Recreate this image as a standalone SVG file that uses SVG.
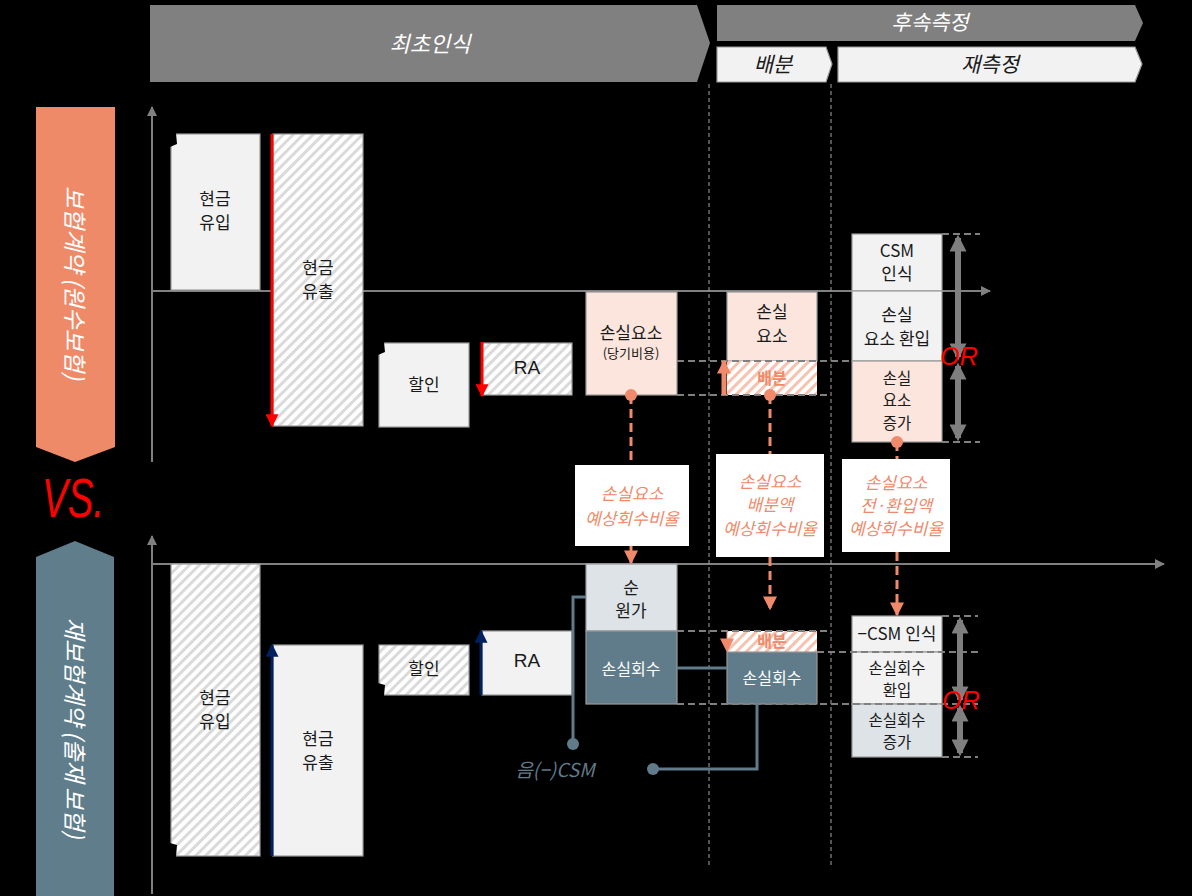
<svg xmlns="http://www.w3.org/2000/svg" width="1192" height="896" viewBox="0 0 1192 896">
  <defs>
    <pattern id="hatch" patternUnits="userSpaceOnUse" width="7" height="7" patternTransform="rotate(45)">
      <rect width="7" height="7" fill="#ffffff"/>
      <rect width="3" height="7" fill="#dadada"/>
    </pattern>
    <pattern id="hatchOrange" patternUnits="userSpaceOnUse" width="7" height="7" patternTransform="rotate(45)">
      <rect width="7" height="7" fill="#ffffff"/>
      <rect width="3" height="7" fill="#f7c2b0"/>
    </pattern>
    <marker id="axisHead" markerWidth="10" markerHeight="10" refX="9" refY="5" orient="auto" markerUnits="userSpaceOnUse" viewBox="0 0 10 10">
      <path d="M0,0 L10,5 L0,10 z" fill="#808080"/>
    </marker>
    <marker id="redHead" viewBox="0 0 10 10" refX="9" refY="5" markerWidth="13" markerHeight="13" orient="auto" markerUnits="userSpaceOnUse">
      <path d="M0,0 L10,5 L0,10 z" fill="#ff0000"/>
    </marker>
    <marker id="navyHead" viewBox="0 0 10 10" refX="9" refY="5" markerWidth="13" markerHeight="13" orient="auto" markerUnits="userSpaceOnUse">
      <path d="M0,0 L10,5 L0,10 z" fill="#002060"/>
    </marker>
    <marker id="orangeHead" viewBox="0 0 10 10" refX="9" refY="5" markerWidth="14" markerHeight="14" orient="auto" markerUnits="userSpaceOnUse">
      <path d="M0,0 L10,5 L0,10 z" fill="#f08a6a"/>
    </marker>
    <marker id="grayHead" viewBox="0 0 10 10" refX="8" refY="5" markerWidth="17" markerHeight="17" orient="auto-start-reverse" markerUnits="userSpaceOnUse">
      <path d="M0,0 L10,5 L0,10 z" fill="#7f7f7f"/>
    </marker>
    <style>
      text { font-family: "Noto Sans CJK KR", "Noto Sans", sans-serif; text-anchor: middle; dominant-baseline: central; }
      .t { font-size: 17px; fill: #1a1a1a; }
      .tt { font-size: 15.5px; fill: #1a1a1a; }
      .ts { font-size: 13px; fill: #1a1a1a; }
      .ra { font-size: 19px; fill: #1a1a1a; font-family: "Liberation Sans", Arial, sans-serif; }
      .tw { font-size: 16px; fill: #ffffff; }
      .to { font-size: 16px; fill: #f08a6a; font-weight: bold; }
      .ratio { font-size: 17px; fill: #f08a6a; font-style: italic; }
      .hdr { font-size: 22px; fill: #ffffff; font-style: italic; }
      .hdr2 { font-size: 21px; fill: #ffffff; font-style: italic; }
      .sub { font-size: 21px; fill: #1a1a1a; font-style: italic; }
      .side { font-size: 23.5px; fill: #ffffff; font-style: italic; }
      .or { font-family: "Liberation Sans", Arial, sans-serif; font-size: 25px; fill: #ff0000; font-style: italic; }
      .vs { font-family: "Liberation Sans", Arial, sans-serif; font-size: 56px; fill: #ff0000; font-style: italic; }
      .csmlabel { font-size: 19px; fill: #607b89; font-style: italic; }
      .light { fill: #f2f2f2; stroke: #9a9a9a; stroke-width: 1.2; }
      .hatched { fill: url(#hatch); stroke: #9a9a9a; stroke-width: 1.2; }
      .ohatched { fill: url(#hatchOrange); stroke: none; }
      .pink { fill: #fbe5dc; stroke: #9a9a9a; stroke-width: 1.2; }
      .pale { fill: #dde3e7; stroke: #9a9a9a; stroke-width: 1.2; }
      .dark { fill: #607b89; stroke: #9a9a9a; stroke-width: 1.2; }
      .axis { stroke: #808080; stroke-width: 2; fill: none; }
      .vguide { stroke: #a6a6a6; stroke-width: 1; stroke-dasharray: 4 3; fill: none; }
      .hguide { stroke: #808080; stroke-width: 2; stroke-dasharray: 7 4; fill: none; }
      .odash { stroke: #f08a6a; stroke-width: 3; stroke-dasharray: 9 5; fill: none; }
      .link { stroke: #607b89; stroke-width: 3; fill: none; }
      .range { stroke: #7f7f7f; stroke-width: 6; fill: none; }
      .notch { fill: #000000; }
    </style>
  </defs>

  <rect width="1192" height="896" fill="#000000"/>

  <!-- phase headers -->
  <g id="header-initial">
    <polygon points="150,5 697,5 710,43 697,82 150,82" fill="#808080"/>
    <text class="hdr" x="430" y="42">최초인식</text>
  </g>
  <g id="header-subsequent">
    <polygon points="717,5 1135,5 1143,23 1135,41 717,41" fill="#808080"/>
    <text class="hdr2" x="930" y="21">후속측정</text>
  </g>
  <g id="header-allocation">
    <polygon points="717,47 826,47 832,64 826,82 717,82" fill="#f2f2f2" stroke="#9a9a9a" stroke-width="1.2"/>
    <text class="sub" x="773" y="63">배분</text>
  </g>
  <g id="header-remeasure">
    <polygon points="838,47 1135,47 1142,64 1135,82 838,82" fill="#f2f2f2" stroke="#9a9a9a" stroke-width="1.2"/>
    <text class="sub" x="990" y="63">재측정</text>
  </g>

  <!-- side labels -->
  <g id="label-direct">
    <polygon points="36,107 115,107 115,447 75,462 36,447" fill="#ef8a69"/>
    <text class="side" transform="translate(76,283) rotate(90)">보험계약 (원수보험)</text>
  </g>
  <g id="label-vs">
    <text class="vs" x="73" y="497" textLength="62" lengthAdjust="spacingAndGlyphs">VS.</text>
  </g>
  <g id="label-reinsurance">
    <polygon points="36,557 75,541 114,557 114,896 36,896" fill="#607d8b"/>
    <text class="side" transform="translate(76,728) rotate(90)">재보험계약 (출재 보험)</text>
  </g>

  <!-- axes and guides -->
  <g id="axes">
    <line class="axis" x1="152" y1="462" x2="152" y2="107" marker-end="url(#axisHead)"/>
    <line class="axis" x1="152" y1="291" x2="990" y2="291" marker-end="url(#axisHead)"/>
    <line class="axis" x1="152" y1="894" x2="152" y2="536" marker-end="url(#axisHead)"/>
    <line class="axis" x1="152" y1="564" x2="1164" y2="564" marker-end="url(#axisHead)"/>
    <line class="vguide" x1="709" y1="84" x2="709" y2="867"/>
    <line class="vguide" x1="831" y1="84" x2="831" y2="867"/>
  </g>

  <!-- direct contract: initial recognition -->
  <g id="up-cash-in">
    <rect class="light" x="171" y="134" width="89" height="156"/>
    <polygon class="notch" points="170,133 176,133 177,144 170,147"/>
    <text class="t" x="215" y="197">현금</text>
    <text class="t" x="215" y="221">유입</text>
  </g>
  <g id="up-cash-out">
    <rect class="hatched" x="273" y="134" width="90" height="292"/>
    <text class="t" x="318" y="266">현금</text>
    <text class="t" x="318" y="290">유출</text>
  </g>
  <g id="up-discount">
    <rect class="light" x="379" y="343" width="90" height="84"/>
    <polygon class="notch" points="378,342 384,342 385,352 378,355"/>
    <text class="t" x="424" y="383">할인</text>
  </g>
  <g id="up-ra">
    <rect class="hatched" x="482" y="343" width="90" height="52"/>
    <text class="ra" x="527" y="367">RA</text>
  </g>
  <g id="up-loss-component">
    <rect class="pink" x="586" y="292" width="91" height="103"/>
    <text class="t" x="631" y="331">손실요소</text>
    <text class="ts" x="631" y="352">(당기비용)</text>
  </g>
  <g id="up-alloc-loss">
    <rect class="pink" x="727" y="292" width="90" height="69"/>
    <text class="t" x="772" y="310">손실</text>
    <text class="t" x="772" y="334">요소</text>
  </g>
  <g id="up-alloc-share">
    <rect class="ohatched" x="727" y="361" width="90" height="34"/>
    <text class="to" x="772" y="377">배분</text>
  </g>
  <g id="up-csm">
    <rect class="light" x="852" y="234" width="90" height="57"/>
    <text class="t" x="897" y="249">CSM</text>
    <text class="t" x="897" y="272">인식</text>
  </g>
  <g id="up-loss-reversal">
    <rect class="light" x="852" y="291" width="90" height="70"/>
    <text class="t" x="897" y="313">손실</text>
    <text class="t" x="897" y="337">요소 환입</text>
  </g>
  <g id="up-loss-increase">
    <rect class="pink" x="852" y="361" width="90" height="81"/>
    <text class="tt" x="897" y="377">손실</text>
    <text class="tt" x="897" y="399">요소</text>
    <text class="tt" x="897" y="422">증가</text>
  </g>

  <!-- ratio labels -->
  <g id="ratio-initial">
    <rect x="575" y="465" width="114" height="81" fill="#ffffff"/>
    <text class="ratio" x="632" y="492">손실요소</text>
    <text class="ratio" x="632" y="517">예상회수비율</text>
  </g>
  <g id="ratio-allocation">
    <rect x="716" y="454" width="108" height="103" fill="#ffffff"/>
    <text class="ratio" x="770" y="480">손실요소</text>
    <text class="ratio" x="770" y="503">배분액</text>
    <text class="ratio" x="770" y="527">예상회수비율</text>
  </g>
  <g id="ratio-remeasure">
    <rect x="842" y="459" width="108" height="93" fill="#ffffff"/>
    <text class="ratio" x="896" y="481">손실요소</text>
    <text class="ratio" x="896" y="504">전·환입액</text>
    <text class="ratio" x="896" y="527">예상회수비율</text>
  </g>

  <!-- reinsurance contract -->
  <g id="re-cash-in">
    <rect class="hatched" x="171" y="564" width="89" height="292"/>
    <polygon class="notch" points="170,857 176,857 177,845 170,843"/>
    <text class="t" x="215" y="696">현금</text>
    <text class="t" x="215" y="720">유입</text>
  </g>
  <g id="re-cash-out">
    <rect class="light" x="273" y="645" width="90" height="211"/>
    <text class="t" x="318" y="737">현금</text>
    <text class="t" x="318" y="761">유출</text>
  </g>
  <g id="re-discount">
    <rect class="hatched" x="379" y="645" width="90" height="50"/>
    <polygon class="notch" points="378,696 384,696 385,685 378,683"/>
    <text class="t" x="424" y="667">할인</text>
  </g>
  <g id="re-ra">
    <rect class="light" x="482" y="631" width="90" height="64"/>
    <text class="ra" x="527" y="660">RA</text>
  </g>
  <g id="re-net-cost">
    <rect class="pale" x="586" y="564" width="91" height="67"/>
    <text class="t" x="631" y="586">순</text>
    <text class="t" x="631" y="609">원가</text>
  </g>
  <g id="re-loss-recovery">
    <rect class="dark" x="586" y="631" width="91" height="73"/>
    <text class="tw" x="631" y="668">손실회수</text>
  </g>
  <g id="re-alloc-share">
    <rect class="ohatched" x="727" y="631" width="90" height="21"/>
    <text class="to" x="772" y="640">배분</text>
  </g>
  <g id="re-alloc-recovery">
    <rect class="dark" x="727" y="652" width="90" height="52"/>
    <text class="tw" x="772" y="677">손실회수</text>
  </g>
  <g id="re-csm">
    <rect class="light" x="852" y="616" width="90" height="36"/>
    <text class="t" x="897" y="632">−CSM 인식</text>
  </g>
  <g id="re-recovery-reversal">
    <rect class="light" x="852" y="652" width="90" height="52"/>
    <text class="tt" x="897" y="667">손실회수</text>
    <text class="tt" x="897" y="689">환입</text>
  </g>
  <g id="re-recovery-increase">
    <rect class="pale" x="852" y="704" width="90" height="53"/>
    <text class="tt" x="897" y="719">손실회수</text>
    <text class="tt" x="897" y="741">증가</text>
  </g>
  <g id="re-negative-csm">
    <text class="csmlabel" x="555" y="768">음(−)CSM</text>
  </g>

  <!-- connectors -->
  <g id="connectors">
    <!-- level guides -->
    <line class="hguide" x1="677" y1="361" x2="853" y2="361"/>
    <line class="hguide" x1="677" y1="395" x2="830" y2="395"/>
    <line class="hguide" x1="942" y1="234" x2="980" y2="234"/>
    <line class="hguide" x1="942" y1="442" x2="980" y2="442"/>
    <line class="hguide" x1="677" y1="631" x2="830" y2="631"/>
    <line class="hguide" x1="817" y1="652" x2="978" y2="652"/>
    <line class="hguide" x1="677" y1="704" x2="978" y2="704"/>
    <line class="hguide" x1="942" y1="616" x2="978" y2="616"/>
    <line class="hguide" x1="942" y1="757" x2="978" y2="757"/>

    <!-- flow arrows -->
    <line x1="272" y1="134" x2="272" y2="426" stroke="#ff0000" stroke-width="3" marker-end="url(#redHead)"/>
    <line x1="482" y1="342" x2="482" y2="396" stroke="#ff0000" stroke-width="3" marker-end="url(#redHead)"/>
    <line x1="272" y1="856" x2="272" y2="645" stroke="#002060" stroke-width="3" marker-end="url(#navyHead)"/>
    <line x1="481" y1="695" x2="481" y2="631" stroke="#002060" stroke-width="3" marker-end="url(#navyHead)"/>
    <line x1="724" y1="395" x2="724" y2="361" stroke="#f08a6a" stroke-width="5" marker-end="url(#orangeHead)"/>
    <line x1="727" y1="631" x2="727" y2="651" stroke="#f08a6a" stroke-width="1" marker-end="url(#orangeHead)"/>

    <!-- ranges -->
    <line class="range" x1="958" y1="238" x2="958" y2="357" marker-start="url(#grayHead)" marker-end="url(#grayHead)"/>
    <line class="range" x1="958" y1="366" x2="958" y2="438" marker-start="url(#grayHead)" marker-end="url(#grayHead)"/>
    <line class="range" x1="960" y1="620" x2="960" y2="700" marker-start="url(#grayHead)" marker-end="url(#grayHead)"/>
    <line class="range" x1="960" y1="708" x2="960" y2="753" marker-start="url(#grayHead)" marker-end="url(#grayHead)"/>

    <!-- ratio transfers -->
    <line class="odash" x1="631" y1="395" x2="631" y2="465"/>
    <line class="odash" x1="631" y1="546" x2="631" y2="563" marker-end="url(#orangeHead)"/>
    <line class="odash" x1="770" y1="395" x2="770" y2="454"/>
    <line class="odash" x1="770" y1="557" x2="770" y2="609" marker-end="url(#orangeHead)"/>
    <line class="odash" x1="897" y1="442" x2="897" y2="459"/>
    <line class="odash" x1="897" y1="552" x2="897" y2="615" marker-end="url(#orangeHead)"/>
    <circle cx="631" cy="395" r="6" fill="#f08a6a"/>
    <circle cx="770" cy="395" r="6" fill="#f08a6a"/>
    <circle cx="897" cy="442" r="6" fill="#f08a6a"/>

    <!-- negative CSM links -->
    <polyline class="link" points="586,597 573,597 573,743"/>
    <circle cx="573" cy="744" r="6" fill="#607b89"/>
    <line class="link" x1="677" y1="668" x2="727" y2="668" stroke-width="2"/>
    <polyline class="link" points="757,704 757,769 653,769"/>
    <circle cx="653" cy="769" r="6" fill="#607b89"/>
  </g>

  <!-- alternative markers drawn over the range arrows -->
  <g id="up-or">
    <text class="or" x="959" y="356">OR</text>
  </g>
  <g id="re-or">
    <text class="or" x="961" y="700">OR</text>
  </g>
</svg>
